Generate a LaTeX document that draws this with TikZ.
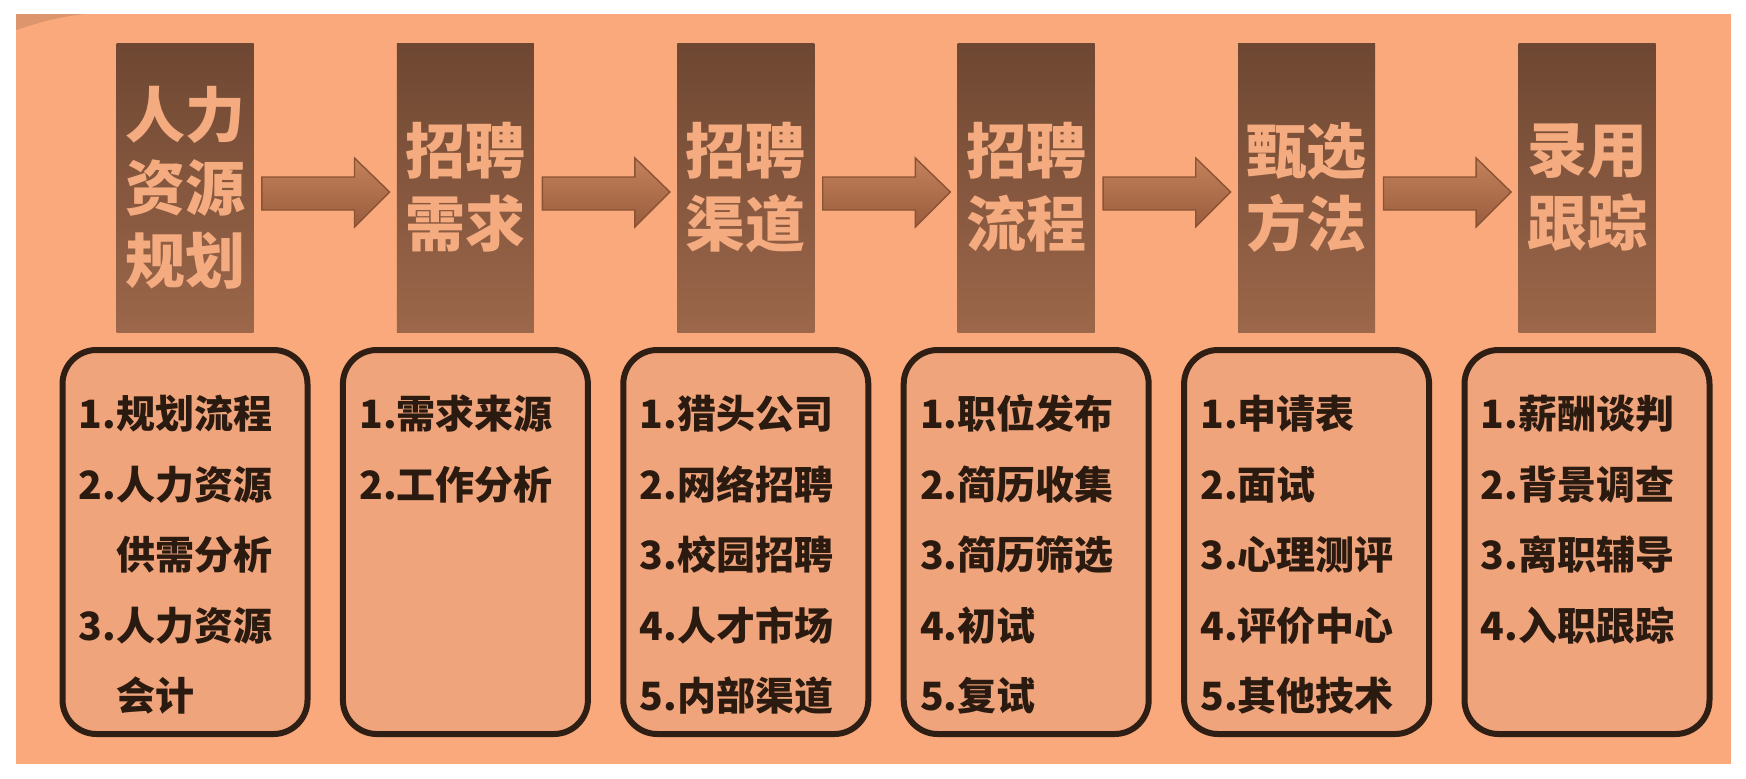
\documentclass[tikz,border=0pt]{standalone}
\usepackage{fontspec}
\newfontfamily\cjk{Noto Sans CJK SC}
\usetikzlibrary{calc}
\definecolor{bg}{HTML}{F9A97B}
\definecolor{corner}{HTML}{DC956C}
\definecolor{darktop}{HTML}{6E4732}
\definecolor{darkbot}{HTML}{9C674A}
\definecolor{titletext}{HTML}{F5AB80}
\definecolor{rfill}{HTML}{EFA47B}
\definecolor{rline}{HTML}{2F1E13}
\definecolor{itemtext}{HTML}{2A1A10}
\definecolor{arrtop}{HTML}{C4825B}
\definecolor{arrbot}{HTML}{995C3D}
\definecolor{arrline}{HTML}{8A5334}
\tikzset{
  darkbox/.style={shade, top color=darktop, bottom color=darkbot,
    minimum width=68.5pt, minimum height=144.5pt, inner sep=0pt,
    align=center, text=titletext,
    font=\cjk\bfseries\fontsize{30}{36.5}\selectfont},
  roundbox/.style={draw=rline, line width=3pt, fill=rfill,
    rounded corners=17pt, minimum width=122.5pt, minimum height=192pt,
    inner sep=0pt},
  itemline/.style={anchor=base west, inner sep=0pt, text=itemtext,
    font=\cjk\bfseries\fontsize{19.5}{23}\selectfont},
  flowarrow/.style={top color=arrtop, bottom color=arrbot, draw=arrline,
    line width=0.7pt, line join=miter}
}
\begin{document}
\begin{tikzpicture}[x=0.5pt,y=-0.5pt]
\useasboundingbox (0,0) rectangle (1746,778);
\fill[white] (0,0) rectangle (1746,778);
\fill[bg] (16,14) rectangle (1731,764);
\fill[corner] (16,14) -- (16,30) .. controls (35,24) and (55,17) .. (85,14) -- cycle;
% title boxes
\foreach \i/\t in {1/{人力\\资源\\规划},2/{招聘\\需求},3/{招聘\\渠道},4/{招聘\\流程},5/{甄选\\方法},6/{录用\\跟踪}}{
  \pgfmathsetmacro{\cx}{185+280.4*(\i-1)}
  \node[darkbox] (d\i) at (\cx,187.5) {\t};
  \node[roundbox] (r\i) at (\cx,542) {};
}
% arrows
\foreach \i/\j in {1/2,2/3,3/4,4/5,5/6}{
  \path[flowarrow] ($(d\i.east)+(8,-10.5)$) -- ($(d\j.west)+(-42,-10.5)$)
    -- ($(d\j.west)+(-42,-29.5)$) -- ($(d\j.west)+(-7,4.5)$)
    -- ($(d\j.west)+(-42,39.5)$) -- ($(d\j.west)+(-42,22.5)$)
    -- ($(d\i.east)+(8,22.5)$) -- cycle;
}
% item lines
\foreach \i/\lines in {
  1/{1.规划流程,2.人力资源,\hphantom{2.}供需分析,3.人力资源,\hphantom{3.}会计},
  2/{1.需求来源,2.工作分析},
  3/{1.猎头公司,2.网络招聘,3.校园招聘,4.人才市场,5.内部渠道},
  4/{1.职位发布,2.简历收集,3.简历筛选,4.初试,5.复试},
  5/{1.申请表,2.面试,3.心理测评,4.评价中心,5.其他技术},
  6/{1.薪酬谈判,2.背景调查,3.离职辅导,4.入职跟踪}}{
  \foreach \l [count=\k] in \lines {
    \node[itemline] (t\i-\k) at ($(r\i.west)+(19,-184+70.5*\k)$) {\l};
  }
}
\end{tikzpicture}
\end{document}
